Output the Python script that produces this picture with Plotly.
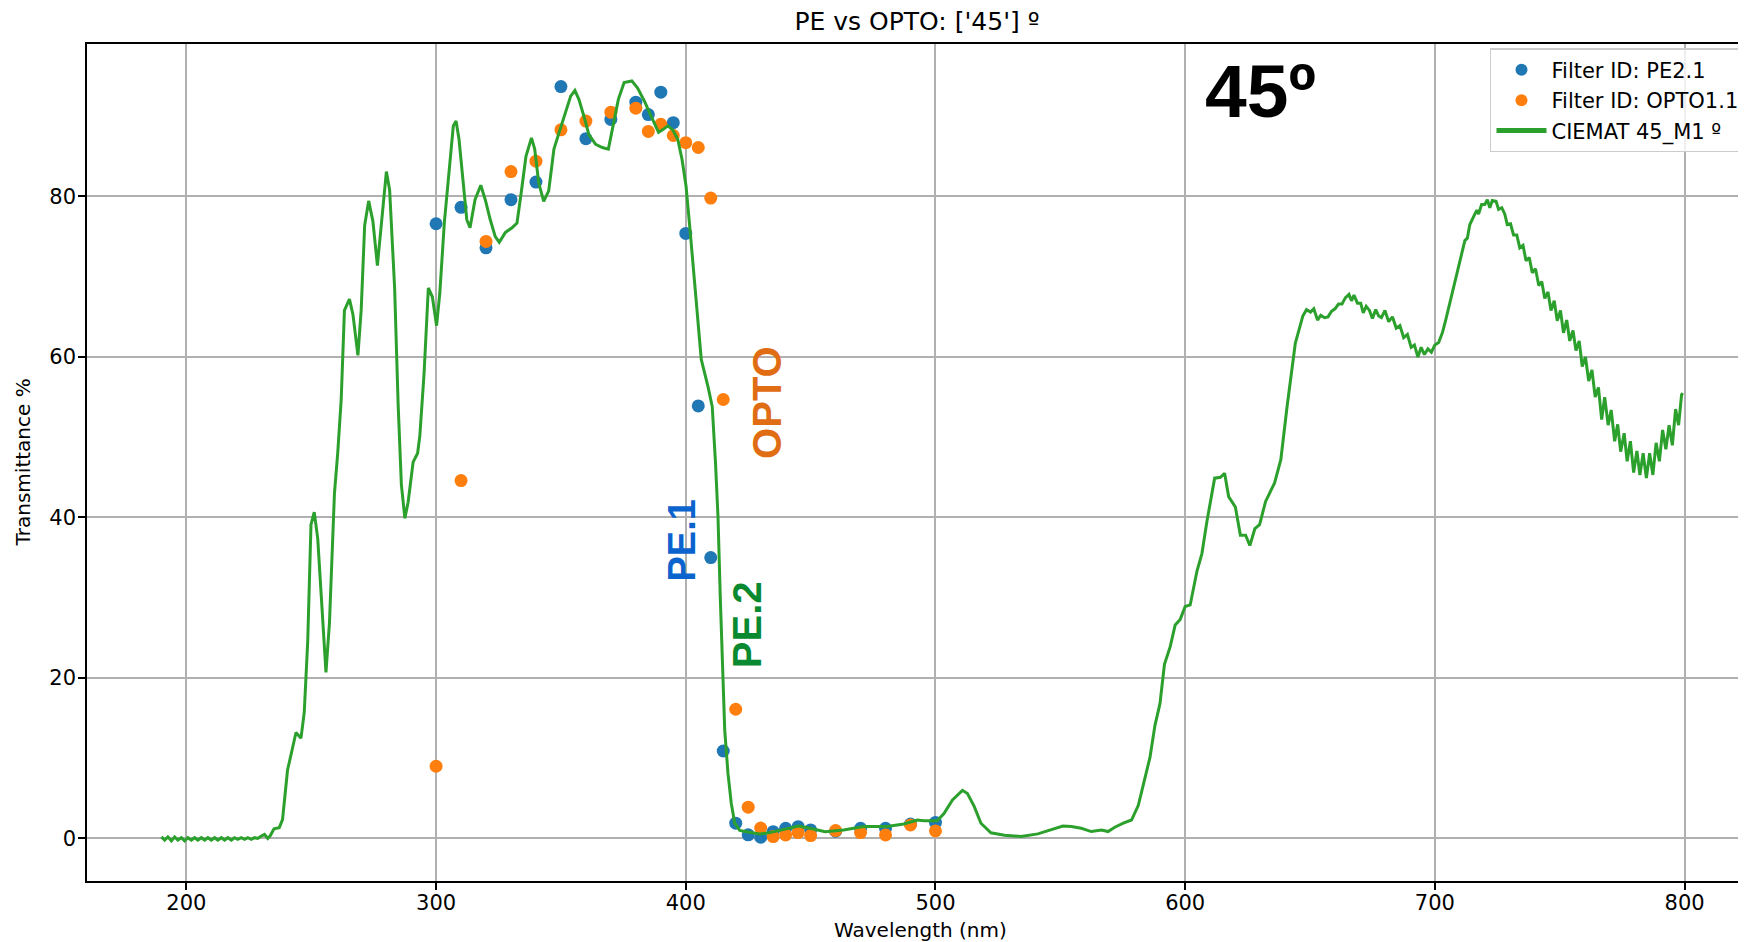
import plotly.graph_objects as go

# ---------------- data ----------------
pe_wl = [300, 310, 320, 330, 340, 350, 360, 370, 380, 385, 390, 395, 400, 405, 410,
         415, 420, 425, 430, 435, 440, 445, 450, 460, 470, 480, 490, 500]
pe_t = [76.6, 78.65, 73.6, 79.6, 81.8, 93.7, 87.2, 89.6, 91.75, 90.2, 93.0, 89.2, 75.4,
        53.9, 35.0, 10.9, 1.9, 0.45, 0.15, 0.85, 1.27, 1.47, 1.06, 0.9, 1.27, 1.27, 1.8, 2.0]

opto_wl = [300, 310, 320, 330, 340, 350, 360, 370, 380, 385, 390, 395, 400, 405, 410,
           415, 420, 425, 430, 435, 440, 445, 450, 460, 470, 480, 490, 500]
opto_t = [9.0, 44.6, 74.4, 83.1, 84.4, 88.3, 89.4, 90.5, 91.0, 88.1, 89.0, 87.6, 86.7,
          86.1, 79.8, 54.7, 16.1, 3.9, 1.3, 0.23, 0.44, 0.73, 0.36, 0.98, 0.73, 0.44, 1.68, 0.94]

ciemat_wl = [
    190.0, 191.3, 192.6, 194.0, 195.3, 196.6, 198.0, 199.3, 200.6, 202.0, 203.3, 204.6,
    206.0, 207.3, 208.6, 210.0, 211.3, 212.6, 214.0, 215.3, 216.6, 218.0, 219.3, 220.6,
    222.0, 223.3, 224.6, 226.0, 227.3, 228.6, 230.0, 231.3, 232.6, 233.5, 235.1, 237.2,
    238.5, 240.5, 243.9, 245.9, 247.2, 248.6, 249.9, 251.2, 252.6, 254.6, 255.9, 257.3,
    259.3, 260.6, 262.0, 263.3, 265.3, 266.7, 268.7, 270.0, 271.4, 273.0, 274.7, 276.5,
    278.1, 280.1, 281.4, 283.4, 284.8, 286.1, 287.5, 288.8, 290.8, 292.6, 293.5, 295.2,
    296.9, 298.5, 300.2, 301.5, 303.3, 304.9, 306.9, 308.0, 309.2, 311.0, 312.3, 313.6,
    315.6, 317.9, 319.7, 321.7, 323.7, 325.3, 327.7, 330.4, 332.4, 334.1, 336.0, 338.2,
    339.5, 341.1, 343.1, 345.1, 347.2, 349.2, 351.8, 353.9, 355.6, 357.2, 359.2, 361.2,
    363.9, 366.6, 369.0, 370.9, 373.0, 375.3, 378.4, 380.7, 383.4, 386.1, 389.1, 390.7,
    392.8, 394.8, 396.8, 398.5, 400.1, 401.8, 403.1, 404.4, 406.2, 408.9, 410.6, 411.9,
    412.9, 413.8, 414.6, 415.6, 416.9, 418.2, 419.6, 421.6, 424.3, 429.6, 433.7, 439.0,
    445.1, 449.8, 455.8, 463.2, 471.2, 480.6, 487.3, 492.7, 495.4, 500.7, 503.4, 506.8,
    510.8, 512.8, 515.5, 518.2, 522.2, 527.6, 534.3, 541.0, 546.3, 551.0, 554.4, 558.4,
    562.4, 566.5, 569.1, 571.8, 575.2, 578.5, 581.2, 583.9, 585.9, 587.9, 589.9, 591.7,
    594.0, 596.0, 598.0, 600.0, 602.0, 604.7, 606.7, 608.7, 611.8, 614.1, 615.8, 617.4,
    620.1, 622.1, 624.2, 625.9, 627.9, 629.8, 632.2, 635.8, 638.3, 640.8, 644.1, 647.1,
    648.6, 650.2, 651.5, 653.0, 654.3, 655.8, 657.2, 658.6, 660.0, 661.4, 662.8, 664.2,
    665.6, 666.6, 667.6, 669.0, 670.3, 671.3, 672.5, 673.8, 675.0, 676.3, 677.5, 678.6,
    680.0, 681.5, 683.0, 684.5, 686.0, 687.5, 689.0, 690.5, 691.8, 693.2, 694.5, 695.8,
    697.2, 698.6, 700.0, 701.5, 703.0, 704.5, 706.0, 707.5, 709.0, 710.5, 712.0, 713.0,
    714.0, 715.5, 716.8, 717.5, 718.7, 720.0, 721.0, 722.0, 723.0, 724.5, 725.5, 726.8,
    728.0, 729.0, 730.3, 731.5, 732.8, 734.0, 735.3, 736.5, 737.8, 739.0, 740.3, 741.6,
    742.8, 744.0, 745.3, 746.5, 747.8, 749.0, 750.3, 751.5, 752.8, 754.0, 755.3, 756.5,
    757.8, 759.0, 760.3, 761.6, 762.9, 764.2, 765.5, 766.8, 768.0, 769.4, 770.6, 772.0,
    773.2, 774.4, 775.8, 777.0, 778.3, 779.6, 780.9, 782.1, 783.4, 784.7, 786.0, 787.3,
    788.6, 789.9, 791.2, 792.5, 793.8, 795.1, 796.4, 797.6, 798.8, 799.3]
ciemat_t = [
    0.2, -0.2, 0.2, -0.3, 0.2, -0.2, 0.1, -0.3, 0.1, -0.2, 0.1, -0.2,
    0.1, -0.2, 0.1, -0.2, 0.1, -0.2, 0.1, -0.2, 0.1, -0.2, 0.1, -0.1,
    0.1, -0.1, 0.1, -0.1, 0.1, 0.0, 0.3, 0.5, 0.0, 0.3, 1.2, 1.35,
    2.35, 8.5, 13.2, 12.5, 15.7, 24.6, 39.1, 40.65, 37.4, 26.85, 20.7, 26.85,
    43.0, 48.0, 54.7, 65.8, 67.2, 65.3, 60.2, 65.8, 76.4, 79.45, 76.9, 71.4,
    76.9, 83.1, 80.8, 68.6, 54.1, 44.1, 39.9, 41.9, 46.9, 48.0, 50.2, 58.0,
    68.6, 67.5, 63.9, 68.0, 76.7, 82.1, 88.8, 89.4, 87.1, 81.3, 77.1, 76.1,
    79.6, 81.4, 79.6, 77.1, 75.0, 74.3, 75.5, 76.1, 76.7, 80.5, 85.0, 87.3,
    85.9, 81.7, 79.4, 80.7, 85.9, 87.9, 90.4, 92.5, 93.2, 92.1, 90.0, 87.7,
    86.5, 86.1, 85.9, 88.8, 92.1, 94.2, 94.4, 93.5, 91.9, 90.0, 88.0, 88.3,
    88.8, 88.3, 87.1, 84.6, 81.3, 75.5, 70.5, 65.5, 59.7, 56.3, 53.8, 46.8,
    40.1, 30.2, 21.8, 13.5, 8.1, 4.4, 1.9, 1.0, 0.85, 0.56, 0.73, 1.14,
    1.56, 1.27, 0.85, 1.06, 1.48, 1.48, 1.8, 2.3, 2.2, 2.2, 3.1, 4.8,
    6.0, 5.6, 4.0, 1.9, 0.7, 0.4, 0.25, 0.57, 1.06, 1.56, 1.48, 1.27,
    0.86, 1.06, 0.86, 1.4, 1.9, 2.3, 4.1, 7.5, 10.1, 14.1, 16.8, 21.7,
    23.9, 26.6, 27.3, 28.9, 29.1, 33.3, 35.5, 39.5, 44.9, 45.0, 45.5, 42.6,
    41.3, 37.8, 37.8, 36.5, 38.6, 39.1, 42.0, 44.3, 47.2, 53.8, 61.7, 65.1,
    65.9, 65.6, 66.0, 64.6, 65.2, 64.9, 65.0, 65.7, 66.0, 66.6, 66.6, 67.4,
    67.8, 67.0, 67.7, 66.7, 66.7, 65.5, 66.3, 65.8, 64.8, 65.9, 65.1, 64.9,
    65.8, 64.4, 65.0, 63.6, 63.9, 62.4, 62.8, 61.2, 61.5, 60.0, 61.2, 60.3,
    61.0, 60.6, 61.5, 61.8, 63.0, 64.8, 66.8, 68.8, 70.5, 72.5, 74.5, 74.8,
    76.5, 77.5, 78.3, 77.8, 79.0, 79.0, 79.6, 78.6, 79.5, 79.4, 78.4, 78.6,
    77.8, 76.5, 76.6, 75.2, 75.2, 73.6, 73.9, 72.0, 72.4, 70.5, 71.0, 68.9,
    69.4, 67.3, 68.1, 65.8, 67.0, 64.5, 65.8, 63.0, 64.6, 62.0, 63.3, 60.8,
    62.0, 58.8, 60.0, 57.0, 58.4, 55.0, 56.2, 52.2, 55.0, 51.5, 53.4, 49.5,
    51.6, 48.2, 50.5, 47.0, 49.5, 45.6, 48.3, 45.3, 48.0, 44.9, 48.0, 45.3,
    49.3, 47.0, 50.9, 48.5, 51.5, 49.0, 53.5, 51.5, 55.3, 55.5]

x_ticks = [200, 300, 400, 500, 600, 700, 800]
y_ticks = [0, 20, 40, 60, 80]

# ---------------- figure ----------------
# The page body adds an 8px offset, so margins are measured from that offset.
W, H = 1746, 942
OFF = 8
L, R, T, B = 87 - OFF, 0, 44 - OFF, 61 + OFF
PW, PH = W - L - R, H - T - B
FONT = "DejaVu Sans"

fig = go.Figure()
fig.add_trace(go.Scatter(x=pe_wl, y=pe_t, mode="markers", name="Filter ID: PE2.1",
                         marker=dict(color="#1f77b4", size=13, line=dict(width=0))))
fig.add_trace(go.Scatter(x=opto_wl, y=opto_t, mode="markers", name="Filter ID: OPTO1.1",
                         marker=dict(color="#ff7f0e", size=13, line=dict(width=0))))
fig.add_trace(go.Scatter(x=ciemat_wl, y=ciemat_t, mode="lines", name="CIEMAT 45_M1 º",
                         line=dict(color="#2ca02c", width=3)))

axis_common = dict(
    showgrid=True, gridcolor="#b0b0b0", gridwidth=1.5,
    zeroline=False, showline=True, linecolor="#000000", linewidth=1.6,
    ticks="outside", ticklen=7, tickwidth=1.6, tickcolor="#000000",
    tickfont=dict(family=FONT, size=21, color="#000000"),
)

fig.update_layout(
    width=W, height=H,
    margin=dict(l=L, r=R, t=T, b=B),
    plot_bgcolor="white", paper_bgcolor="white",
    font=dict(family=FONT, size=20, color="#000000"),
    title=dict(text="PE vs OPTO: ['45'] º", x=(917 - OFF) / W, xanchor="center",
               y=1 - (21 - OFF) / H, yanchor="middle",
               font=dict(family=FONT, size=25, color="#000000")),
    xaxis=dict(range=[160.2, 827.8], tickvals=x_ticks, mirror=True,
               ticklabelstandoff=-5, **axis_common),
    yaxis=dict(range=[-5.3, 99.0], tickvals=y_ticks, mirror=False,
               ticklabelstandoff=-2, **axis_common),
    showlegend=True,
    legend=dict(x=0.9946, xanchor="right", y=0.995, yanchor="top",
                bgcolor="rgba(255,255,255,0.8)", bordercolor="#cccccc", borderwidth=1.5,
                font=dict(family=FONT, size=21, color="#000000"),
                itemwidth=50, itemsizing="constant"),
)

# axis titles
fig.add_annotation(text="Wavelength (nm)", xref="paper", yref="paper",
                   x=0.5, y=-(930 - 881) / PH, xanchor="center", yanchor="middle",
                   showarrow=False, font=dict(family=FONT, size=20, color="#000000"))
fig.add_annotation(text="Transmittance %", xref="paper", yref="paper",
                   x=-(87 - 22) / PW, y=0.5, xanchor="center", yanchor="middle",
                   textangle=-90, showarrow=False,
                   font=dict(family=FONT, size=20, color="#000000"))

# labels in the plot
BOLD = "Liberation Sans"
fig.add_annotation(text="<b>45º</b>", x=630.2, y=93.2, xref="x", yref="y",
                   showarrow=False, font=dict(family=BOLD, size=75, color="#000000"))
fig.add_annotation(text="<b>OPTO</b>", x=432.6, y=54.3, xref="x", yref="y",
                   textangle=-90, showarrow=False,
                   font=dict(family=BOLD, size=40, color="#e06c13"))
fig.add_annotation(text="<b>PE.1</b>", x=398.4, y=37.1, xref="x", yref="y",
                   textangle=-90, showarrow=False,
                   font=dict(family=BOLD, size=38, color="#0b63ce"))
fig.add_annotation(text="<b>PE.2</b>", x=424.5, y=26.7, xref="x", yref="y",
                   textangle=-90, showarrow=False,
                   font=dict(family=BOLD, size=40, color="#0a8a30"))

fig.write_html("out.html")
